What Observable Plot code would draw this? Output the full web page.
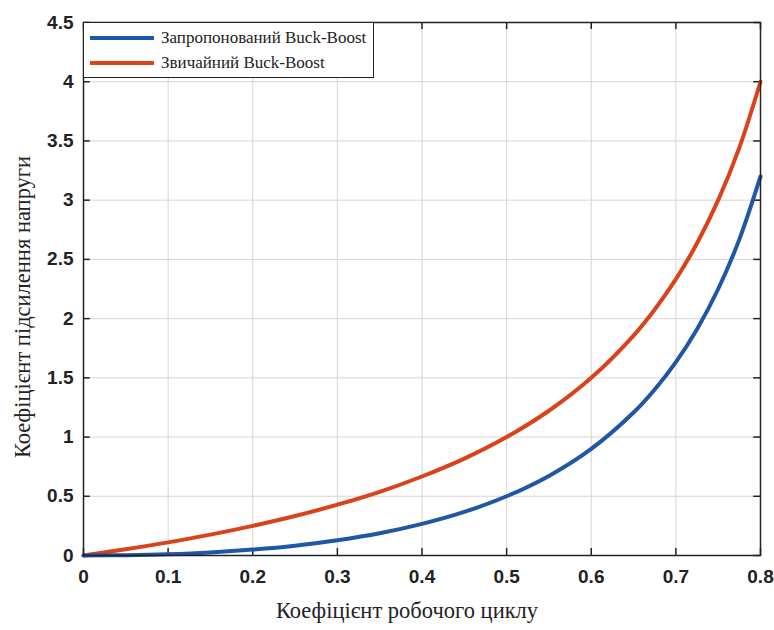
<!DOCTYPE html>
<html>
<head>
<meta charset="utf-8">
<script src="https://cdn.jsdelivr.net/npm/d3@7"></script>
<script src="https://cdn.jsdelivr.net/npm/@observablehq/plot@0.6"></script>
<style>
  body { margin: 0; background: #fff; }
  #wrap { position: relative; width: 774px; height: 630px; }
  #legend { position: absolute; left: 83px; top: 22px; width: 291px; height: 56px; box-sizing: border-box;
    border: 1.5px solid #222; background: #fff; font-family: "Liberation Serif", "Times New Roman", serif; font-size: 17px; color: #222; }
  .row { position: absolute; left: 6px; display: flex; align-items: center; height: 20px; }
  .sw { width: 64px; height: 4px; margin-right: 7px; }
</style>
</head>
<body>
<div id="wrap"></div>
<script>
const duty = [0, 0.05, 0.1, 0.15, 0.2, 0.25, 0.3, 0.35, 0.4, 0.45, 0.5, 0.55, 0.6, 0.65, 0.675, 0.7, 0.725, 0.75, 0.775, 0.8];
const proposed = [0, 0.003, 0.011, 0.026, 0.05, 0.083, 0.129, 0.188, 0.267, 0.368, 0.5, 0.672, 0.9, 1.207, 1.402, 1.633, 1.911, 2.25, 2.669, 3.2];
const conventional = [0, 0.053, 0.111, 0.176, 0.25, 0.333, 0.429, 0.538, 0.667, 0.818, 1.0, 1.222, 1.5, 1.857, 2.077, 2.333, 2.636, 3.0, 3.444, 4.0];
const seriesNames = ["Запропонований Buck-Boost", "Звичайний Buck-Boost"];
const seriesColors = ["#1f56a5", "#d9421a"];
const xTicks = [0, 0.1, 0.2, 0.3, 0.4, 0.5, 0.6, 0.7, 0.8];
const yTicks = [0, 0.5, 1, 1.5, 2, 2.5, 3, 3.5, 4, 4.5];
const xLabel = "Коефіцієнт робочого циклу";
const yLabel = "Коефіцієнт підсилення напруги";

const rows = duty.flatMap((d, i) => [
  {d, v: proposed[i], s: seriesNames[0]},
  {d, v: conventional[i], s: seriesNames[1]}
]);

const tickFont = {fontSize: 19, fontWeight: "bold", fill: "#222"};
const serif = "'Liberation Serif', 'Times New Roman', serif";

const chart = Plot.plot({
  width: 774,
  height: 630,
  marginLeft: 83,
  marginRight: 14,
  marginTop: 22,
  marginBottom: 75,
  style: {fontFamily: "'Liberation Sans', Arial, sans-serif", background: "#fff"},
  x: {domain: [0, 0.8]},
  y: {domain: [0, 4.5]},
  marks: [
    Plot.gridX(xTicks, {stroke: "#dcd3ce", strokeOpacity: 1, strokeWidth: 1}),
    Plot.gridY(yTicks, {stroke: "#dcd3ce", strokeOpacity: 1, strokeWidth: 1}),
    Plot.axisX(xTicks, {anchor: "bottom", tickSize: 0, tickPadding: 14, label: null, tickFormat: d => String(d), ...tickFont}),
    Plot.axisY(yTicks, {anchor: "left", tickSize: 0, tickPadding: 10, label: null, tickFormat: d => String(d), ...tickFont}),
    Plot.ruleX(xTicks, {x: d => d, y1: 0, y2: 0.06, stroke: "#222", strokeWidth: 1.5}),
    Plot.ruleX(xTicks, {x: d => d, y1: 4.44, y2: 4.5, stroke: "#222", strokeWidth: 1.5}),
    Plot.ruleY(yTicks, {y: d => d, x1: 0, x2: 0.008, stroke: "#222", strokeWidth: 1.5}),
    Plot.ruleY(yTicks, {y: d => d, x1: 0.792, x2: 0.8, stroke: "#222", strokeWidth: 1.5}),
    Plot.line(rows.filter(r => r.s === seriesNames[1]), {x: "d", y: "v", stroke: seriesColors[1], strokeWidth: 4, curve: "catmull-rom"}),
    Plot.line(rows.filter(r => r.s === seriesNames[0]), {x: "d", y: "v", stroke: seriesColors[0], strokeWidth: 4, curve: "catmull-rom"}),
    Plot.frame({stroke: "#222", strokeWidth: 1.5}),
    Plot.text([xLabel], {frameAnchor: "bottom", dx: -15, dy: 62, text: d => d, fontSize: 22.5, fontFamily: serif, fill: "#222"}),
    Plot.text([yLabel], {frameAnchor: "left", textAnchor: "middle", dx: -61, dy: 18, rotate: -90, text: d => d, fontSize: 22.5, fontFamily: serif, fill: "#222"})
  ]
});

const wrap = document.getElementById("wrap");
wrap.appendChild(chart);
const legend = document.createElement("div");
legend.id = "legend";
seriesNames.forEach((name, i) => {
  const row = document.createElement("div");
  row.className = "row";
  row.style.top = (i === 0 ? 5 : 30) + "px";
  const sw = document.createElement("div");
  sw.className = "sw";
  sw.style.background = seriesColors[i];
  const t = document.createElement("span");
  t.textContent = name;
  row.appendChild(sw);
  row.appendChild(t);
  legend.appendChild(row);
});
wrap.appendChild(legend);
</script>
</body>
</html>
